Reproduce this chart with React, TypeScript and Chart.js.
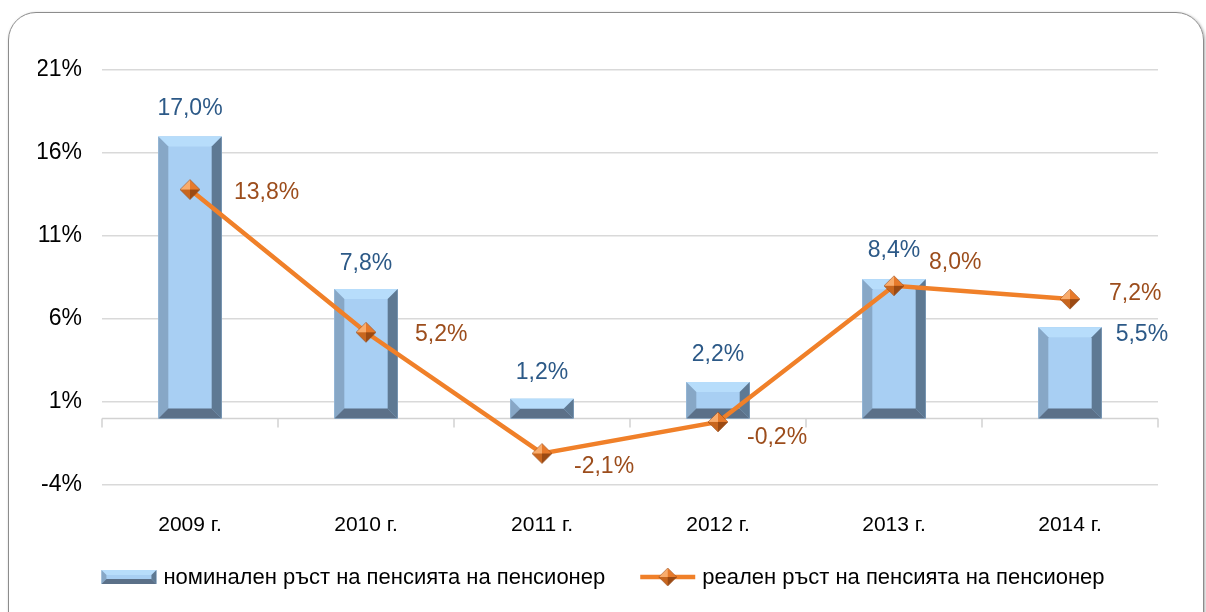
import React, { useEffect, useRef } from "react";
import { Chart, registerables } from "chart.js";

Chart.register(...registerables);

const categories = ["2009 г.", "2010 г.", "2011 г.", "2012 г.", "2013 г.", "2014 г."];
const nominalGrowth = [17.0, 7.8, 1.2, 2.2, 8.4, 5.5];
const realGrowth = [13.8, 5.2, -2.1, -0.2, 8.0, 7.2];
const seriesNames = [
  "номинален ръст на пенсията на пенсионер",
  "реален ръст на пенсията на пенсионер",
];
const yMin = -4;
const yMax = 21;
const yStep = 5;

// label placement (styling, not data): [mode, dx, dy]
const barLabelOffsets: [string, number, number][] = [
  ["above", 0, -28], ["above", 0, -25], ["above", 0, -26], ["above", 0, -27], ["above", 0, -29], ["right", 14, 7],
];
const lineLabelOffsets = [
  [44, 3], [49, 2], [32, 13], [29, 16], [35, -23], [39, -5],
];

const SANS = '"Liberation Sans", Arial, sans-serif';
const NARROW = '"Liberation Sans Narrow", "Arial Narrow", "Liberation Sans", Arial, sans-serif';
const ORANGE = "#f08029";
const BLUE_TXT = "#2c5987";
const BROWN_TXT = "#9c4d1c";

const fmt = (v: number) => v.toFixed(1).replace(".", ",") + "%";

function makeDiamond(size: number) {
  const c = document.createElement("canvas");
  c.width = size;
  c.height = size;
  const ctx = c.getContext("2d")!;
  const m = size / 2;
  const r = size / 2 - 1;
  const top = [m, m - r], right = [m + r, m], bottom = [m, m + r], left = [m - r, m];
  const tri = (a: number[], b: number[], col: string) => {
    ctx.beginPath();
    ctx.moveTo(a[0], a[1]);
    ctx.lineTo(b[0], b[1]);
    ctx.lineTo(m, m);
    ctx.closePath();
    ctx.fillStyle = col;
    ctx.fill();
  };
  tri(left, top, "#f9ac6c");
  tri(top, right, "#e77a2b");
  tri(right, bottom, "#9b4a13");
  tri(bottom, left, "#c8661e");
  ctx.beginPath();
  ctx.moveTo(top[0], top[1]);
  ctx.lineTo(right[0], right[1]);
  ctx.lineTo(bottom[0], bottom[1]);
  ctx.lineTo(left[0], left[1]);
  ctx.closePath();
  ctx.strokeStyle = "rgba(140,60,10,0.6)";
  ctx.lineWidth = 0.8;
  ctx.stroke();
  return c;
}

function drawBevel(ctx: CanvasRenderingContext2D, L: number, T: number, R: number, B: number, bev: number) {
  const b = Math.min(bev, (B - T) / 2, (R - L) / 2);
  const poly = (pts: number[][], col: string) => {
    ctx.beginPath();
    ctx.moveTo(pts[0][0], pts[0][1]);
    for (let i = 1; i < pts.length; i++) ctx.lineTo(pts[i][0], pts[i][1]);
    ctx.closePath();
    ctx.fillStyle = col;
    ctx.fill();
  };
  poly([[L, T], [R, T], [R, B], [L, B]], "#a8cff3");
  poly([[L, T], [R, T], [R - b, T + b], [L + b, T + b]], "#b7ddfb");
  poly([[L, T], [L + b, T + b], [L + b, B - b], [L, B]], "#87a7c6");
  poly([[R, T], [R, B], [R - b, B - b], [R - b, T + b]], "#5e7993");
  poly([[L, B], [R, B], [R - b, B - b], [L + b, B - b]], "#5b7088");
}

export default function App() {
  const ref = useRef<HTMLCanvasElement | null>(null);

  useEffect(() => {
    if (!ref.current) return;
    const diamond = makeDiamond(22);
    const legendDiamond = makeDiamond(20);

    const zeroAxisPlugin = {
      id: "zeroAxis",
      beforeDatasetsDraw(chart: any) {
        const { ctx, chartArea } = chart;
        const xs = chart.scales.x;
        const ys = chart.scales.y;
        const y0 = ys.getPixelForValue(0);
        ctx.save();
        ctx.strokeStyle = "#d2d2d2";
        ctx.lineWidth = 1.5;
        ctx.beginPath();
        ctx.moveTo(chartArea.left, y0);
        ctx.lineTo(chartArea.right, y0);
        for (let i = 0; i <= categories.length; i++) {
          const x = Math.round(xs.getPixelForValue(i - 0.5));
          ctx.moveTo(x, y0);
          ctx.lineTo(x, y0 + 9);
        }
        ctx.stroke();
        ctx.restore();
      },
    };

    const bevelPlugin = {
      id: "bevelBars",
      afterDatasetDraw(chart: any, args: any) {
        if (args.meta.type !== "bar") return;
        const ctx = chart.ctx;
        ctx.save();
        args.meta.data.forEach((el: any) => {
          const p = el.getProps(["x", "y", "base", "width"], true);
          const L = p.x - p.width / 2;
          const R = p.x + p.width / 2;
          const T = Math.min(p.y, p.base);
          const B = Math.max(p.y, p.base);
          drawBevel(ctx, L, T, R, B, 10);
        });
        ctx.restore();
      },
    };

    const labelsPlugin = {
      id: "valueLabels",
      afterDatasetsDraw(chart: any) {
        const ctx = chart.ctx;
        ctx.save();
        ctx.font = `23px ${SANS}`;
        ctx.textBaseline = "middle";
        chart.data.datasets.forEach((ds: any, di: number) => {
          const meta = chart.getDatasetMeta(di);
          meta.data.forEach((el: any, i: number) => {
            const v = ds.data[i];
            if (meta.type === "bar") {
              const [mode, dx, dy] = barLabelOffsets[i];
              ctx.fillStyle = BLUE_TXT;
              if (mode === "right") {
                ctx.textAlign = "left";
                ctx.fillText(fmt(v), el.x + el.width / 2 + dx, el.y + dy);
              } else {
                ctx.textAlign = "center";
                ctx.fillText(fmt(v), el.x + dx, el.y + dy);
              }
            } else {
              const o = lineLabelOffsets[i];
              ctx.fillStyle = BROWN_TXT;
              ctx.textAlign = "left";
              ctx.fillText(fmt(v), el.x + o[0], el.y + o[1]);
            }
          });
        });
        ctx.restore();
      },
    };

    const legendPlugin = {
      id: "customLegend",
      afterDraw(chart: any) {
        const ctx = chart.ctx;
        ctx.save();
        ctx.font = `22px ${NARROW}`;
        ctx.textBaseline = "middle";
        ctx.textAlign = "left";
        const boxW = 55;
        const gap = 7;
        const spacing = 35;
        const widths = seriesNames.map((s) => ctx.measureText(s).width);
        const total = widths.reduce((a, w) => a + boxW + gap + w, 0) + spacing;
        let x = chart.width / 2 - total / 2;
        const cy = 577;
        seriesNames.forEach((name, i) => {
          if (i === 0) {
            drawBevel(ctx, x, cy - 7, x + boxW, cy + 7, 5);
          } else {
            ctx.strokeStyle = ORANGE;
            ctx.lineWidth = 4.5;
            ctx.beginPath();
            ctx.moveTo(x, cy);
            ctx.lineTo(x + boxW, cy);
            ctx.stroke();
            ctx.drawImage(legendDiamond, x + boxW / 2 - 10, cy - 10);
          }
          ctx.fillStyle = "#000";
          ctx.fillText(name, x + boxW + gap, cy + 1);
          x += boxW + gap + widths[i] + spacing;
        });
        ctx.restore();
      },
    };

    const chart = new Chart(ref.current, {
      type: "bar",
      data: {
        labels: categories,
        datasets: [
          {
            type: "line",
            label: seriesNames[1],
            data: realGrowth,
            borderColor: ORANGE,
            borderWidth: 4.5,
            pointStyle: diamond as any,
            pointRadius: 11,
            pointHoverRadius: 11,
            tension: 0,
            order: 0,
          } as any,
          {
            type: "bar",
            label: seriesNames[0],
            data: nominalGrowth,
            backgroundColor: "#a8cff3",
            borderWidth: 0,
            categoryPercentage: 0.4,
            barPercentage: 0.9,
            order: 1,
          },
        ],
      },
      options: {
        animation: false,
        responsive: false,
        maintainAspectRatio: false,
        layout: { padding: { top: 70, left: 38, right: 48, bottom: 0 } },
        plugins: {
          legend: { display: false },
          tooltip: { enabled: false },
        },
        scales: {
          x: {
            grid: { display: false },
            border: { display: false },
            ticks: {
              color: "#000",
              font: { family: NARROW, size: 21 },
              padding: 20,
            },
            afterFit: (s: any) => {
              s.height = 127;
            },
          },
          y: {
            min: yMin,
            max: yMax,
            border: { display: false },
            grid: { color: "#d9d9d9", lineWidth: 1.5, drawTicks: false },
            ticks: {
              stepSize: yStep,
              color: "#000",
              font: { family: SANS, size: 23 },
              padding: 20,
              callback: (v: any) => v + "%",
            },
            afterFit: (s: any) => {
              s.width = 64;
            },
          },
        },
      },
      plugins: [zeroAxisPlugin, bevelPlugin, labelsPlugin, legendPlugin],
    });
    return () => chart.destroy();
  }, []);

  return (
    <div style={{ position: "absolute", left: 0, top: 0, width: 1206, height: 612, overflow: "hidden", background: "#fff" }}>
      <div
        style={{
          position: "absolute",
          left: 8,
          top: 12,
          width: 1196,
          height: 700,
          boxSizing: "border-box",
          border: "1.5px solid #8c8c8c",
          borderRadius: 28,
          boxShadow: "1px 1px 3px rgba(0,0,0,0.35)",
        }}
      />
      <canvas ref={ref} width={1206} height={612} style={{ position: "absolute", left: 0, top: 0 }} />
    </div>
  );
}
